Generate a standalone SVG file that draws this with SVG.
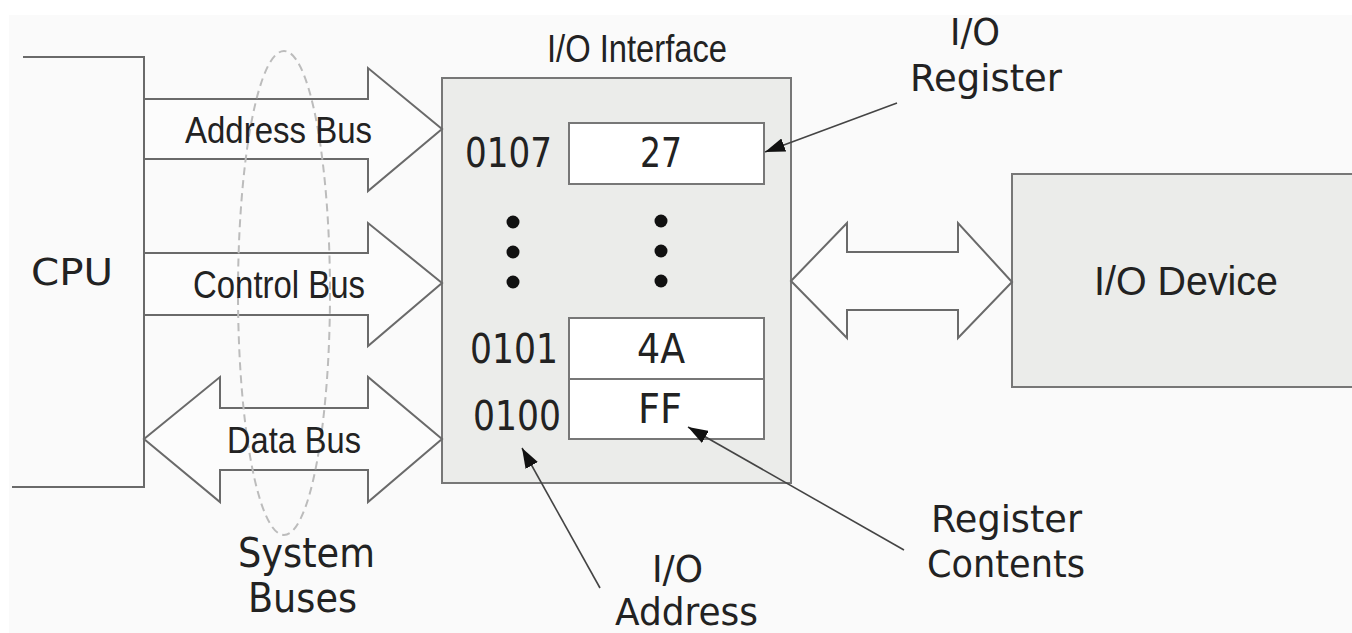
<svg xmlns="http://www.w3.org/2000/svg" width="1352" height="633" viewBox="0 0 1352 633">
<defs>
<style>
.bus{fill:#fcfcfc;stroke:#6a6a6a;stroke-width:2;stroke-linejoin:miter}
.box{fill:#ebecea;stroke:#777;stroke-width:2}
.reg{fill:#fff;stroke:#777;stroke-width:2}
.h{font-family:"Liberation Sans",Arial,sans-serif;fill:#222}
.d{font-family:"DejaVu Sans",sans-serif;fill:#222}
.ptr{stroke:#444;stroke-width:1.6;fill:none;marker-end:url(#ah)}
.dot{fill:#111}
</style>
<marker id="ah" viewBox="0 0 20 14" refX="20" refY="7" markerWidth="20" markerHeight="14" markerUnits="userSpaceOnUse" orient="auto">
<path d="M0,0 L20,7 L0,14 Z" fill="#111"/>
</marker>
</defs>
<rect x="0" y="0" width="1352" height="633" fill="#fff"/>
<rect x="9" y="15" width="1343" height="618" fill="#fafafa"/>

<g id="cpu">
<path d="M23,57 H144 V487 H12" fill="none" stroke="#6a6a6a" stroke-width="2"/>
<text class="d" x="31" y="285" font-size="38" textLength="82" lengthAdjust="spacingAndGlyphs">CPU</text>
</g>

<g id="io-interface">
<text class="h" x="547" y="62" font-size="38" textLength="180" lengthAdjust="spacingAndGlyphs">I/O Interface</text>
<rect class="box" x="442" y="78" width="349" height="405"/>
<rect class="reg" x="569" y="123" width="195" height="61"/>
<rect class="reg" x="569" y="318" width="195" height="61"/>
<rect class="reg" x="569" y="379" width="195" height="60"/>
<text class="d" x="465" y="167" font-size="40" textLength="87" lengthAdjust="spacingAndGlyphs">0107</text>
<text class="d" x="640" y="167" font-size="40" textLength="42" lengthAdjust="spacingAndGlyphs">27</text>
<text class="d" x="470" y="363" font-size="40" textLength="88" lengthAdjust="spacingAndGlyphs">0101</text>
<text class="d" x="637" y="363" font-size="40" textLength="48" lengthAdjust="spacingAndGlyphs">4A</text>
<text class="d" x="473" y="430" font-size="40" textLength="88" lengthAdjust="spacingAndGlyphs">0100</text>
<text class="d" x="638" y="423" font-size="40" textLength="44" lengthAdjust="spacingAndGlyphs">FF</text>
<circle class="dot" cx="513" cy="222" r="6.5"/>
<circle class="dot" cx="513" cy="252" r="6.5"/>
<circle class="dot" cx="513" cy="282" r="6.5"/>
<circle class="dot" cx="661" cy="221" r="6.5"/>
<circle class="dot" cx="661" cy="251" r="6.5"/>
<circle class="dot" cx="661" cy="281" r="6.5"/>
</g>

<g id="io-device">
<rect class="box" x="1012" y="174" width="346" height="213"/>
<text class="h" x="1094" y="295" font-size="41" textLength="184" lengthAdjust="spacingAndGlyphs">I/O Device</text>
</g>

<g id="connectors">
<path class="bus" d="M144,99 H368 V68 L442,129 L368,191 V159 H144 Z"/>
<path class="bus" d="M144,253 H368 V223 L442,283 L368,346 V315 H144 Z"/>
<path class="bus" d="M144,439 L220,377 V408 H368 V377 L442,439 L368,502 V470 H220 V502 Z"/>
<path class="bus" d="M791,281 L847,223 V252 H958 V223 L1012,282 L958,338 V310 H847 V338 Z"/>
<line class="ptr" x1="897" y1="103" x2="765" y2="152"/>
<line class="ptr" x1="904" y1="550" x2="688" y2="427"/>
<line class="ptr" x1="600" y1="588" x2="522" y2="448"/>
</g>

<g id="system-buses">
<ellipse cx="284" cy="293" rx="46" ry="242" fill="none" stroke="#bcbcbc" stroke-width="2" stroke-dasharray="8 5"/>
<text class="d" x="238" y="567" font-size="40" textLength="137" lengthAdjust="spacingAndGlyphs">System</text>
<text class="d" x="248" y="612" font-size="40" textLength="109" lengthAdjust="spacingAndGlyphs">Buses</text>
</g>

<g id="bus-labels">
<text class="h" x="185" y="143" font-size="37" textLength="187" lengthAdjust="spacingAndGlyphs">Address Bus</text>
<text class="h" x="193" y="298" font-size="38" textLength="172" lengthAdjust="spacingAndGlyphs">Control Bus</text>
<text class="h" x="227" y="453" font-size="37" textLength="134" lengthAdjust="spacingAndGlyphs">Data Bus</text>
</g>

<g id="label-io-register">
<text class="d" x="950" y="45" font-size="38" textLength="50" lengthAdjust="spacingAndGlyphs">I/O</text>
<text class="d" x="910" y="91" font-size="38" textLength="152" lengthAdjust="spacingAndGlyphs">Register</text>
</g>

<g id="label-register-contents">
<text class="d" x="931" y="532" font-size="38" textLength="151" lengthAdjust="spacingAndGlyphs">Register</text>
<text class="d" x="927" y="577" font-size="38" textLength="158" lengthAdjust="spacingAndGlyphs">Contents</text>
</g>

<g id="label-io-address">
<text class="d" x="652" y="582" font-size="38" textLength="51" lengthAdjust="spacingAndGlyphs">I/O</text>
<text class="d" x="615" y="625" font-size="37" textLength="143" lengthAdjust="spacingAndGlyphs">Address</text>
</g>
</svg>
